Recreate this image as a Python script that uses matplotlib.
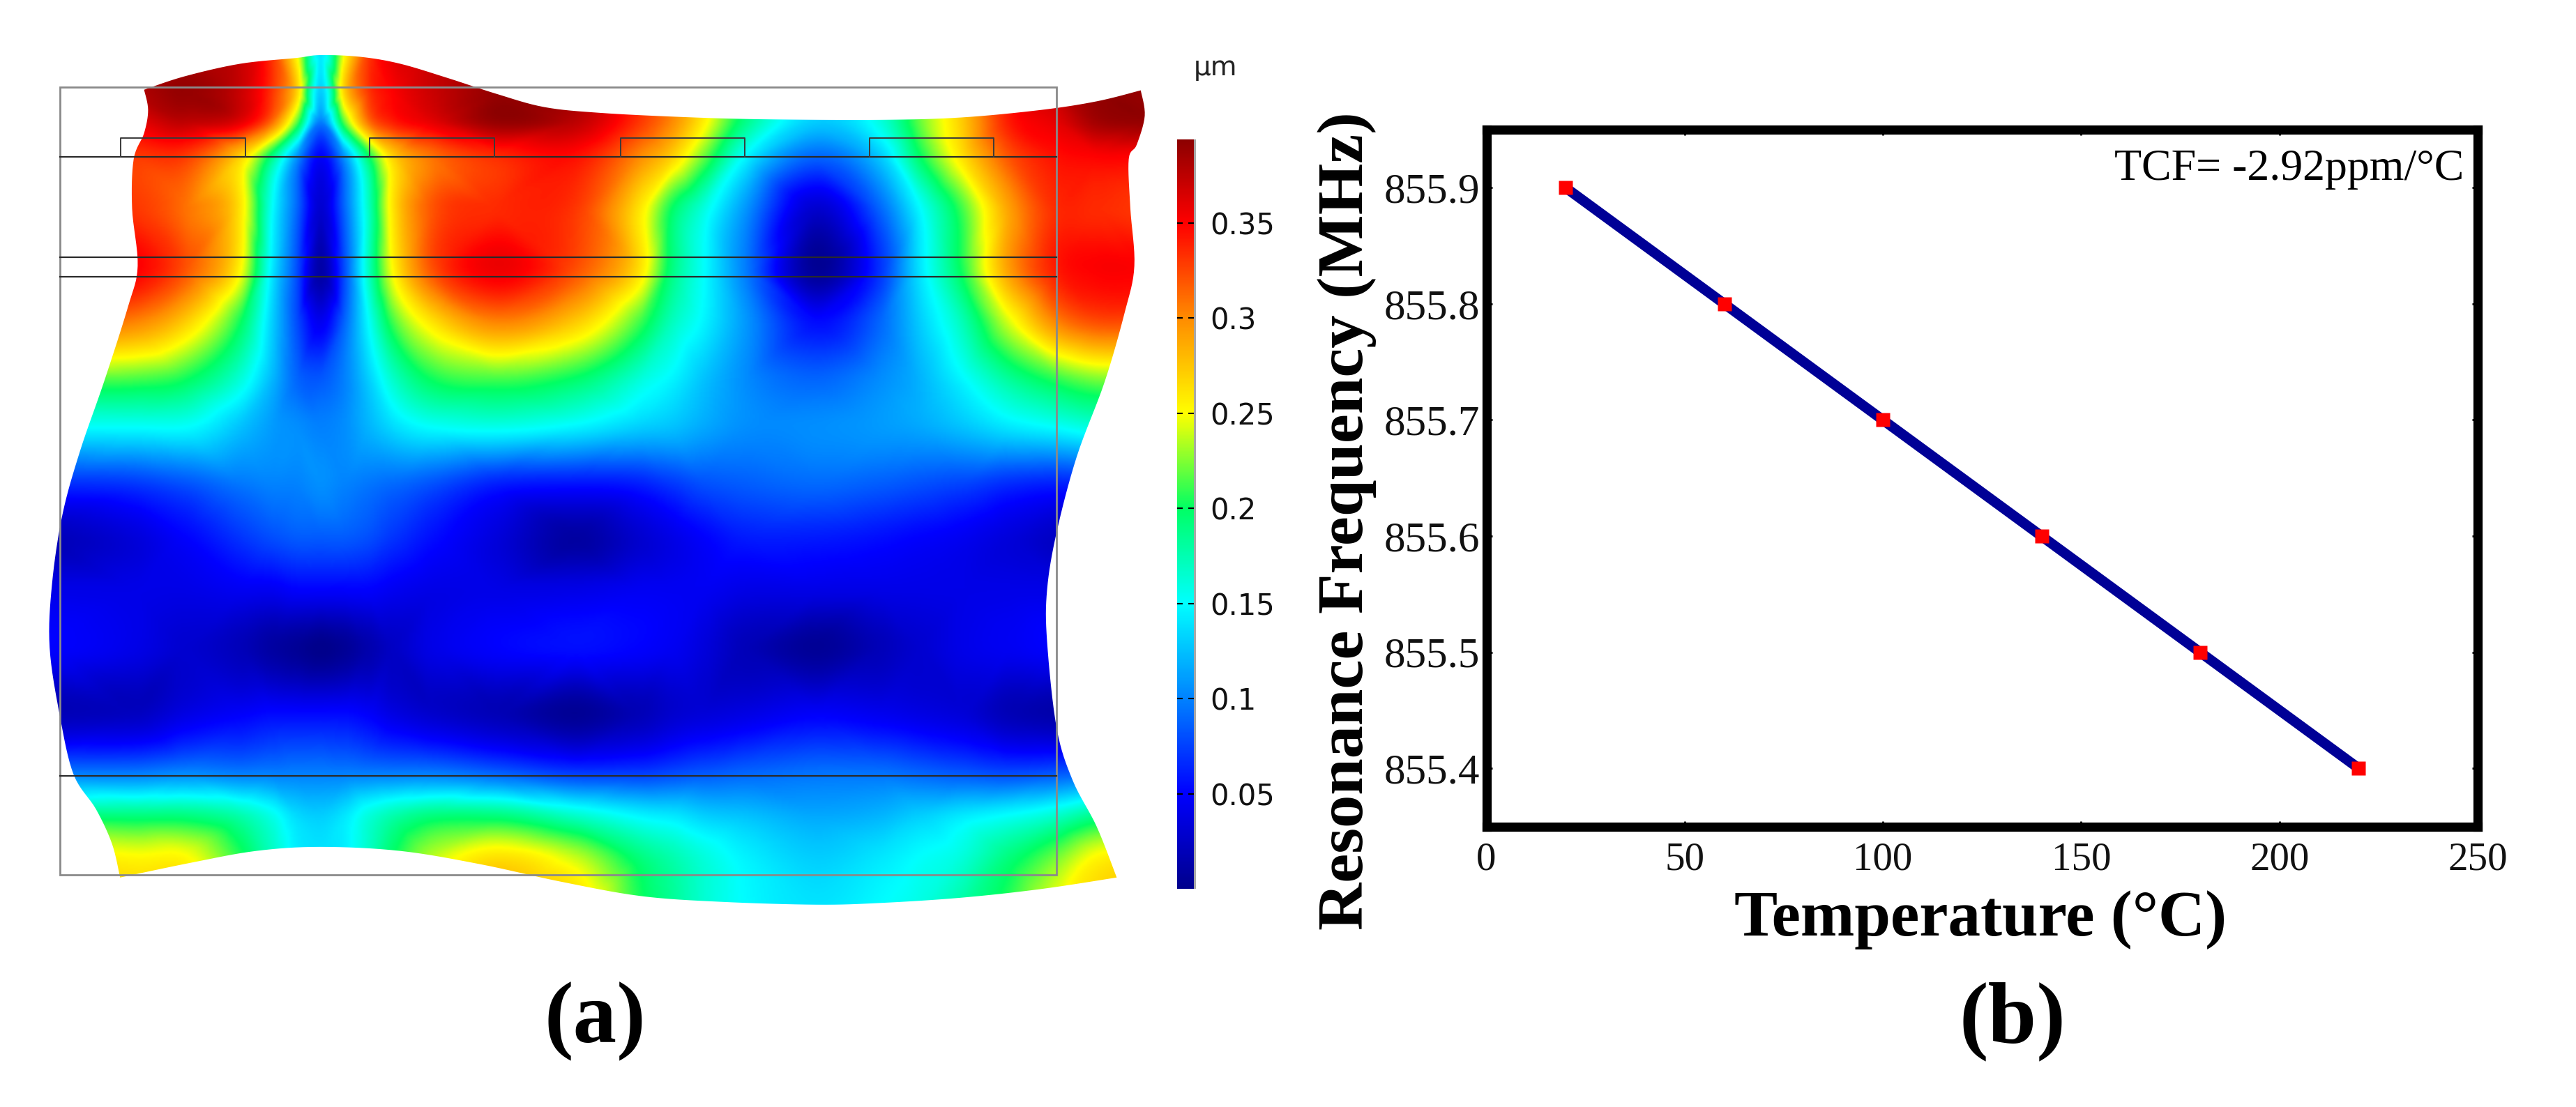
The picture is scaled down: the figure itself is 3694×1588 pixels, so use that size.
import numpy as np
import matplotlib
matplotlib.use("Agg")
import matplotlib.pyplot as plt
import matplotlib.tri as mtri
from matplotlib.colors import LinearSegmentedColormap, Normalize
from matplotlib.cm import ScalarMappable
from matplotlib.patches import PathPatch, Rectangle
from matplotlib.path import Path

W, H = 3694, 1588
SERIF = ["Liberation Serif", "DejaVu Serif"]

# ---- panel (b) data
temperature = [20, 60, 100, 140, 180, 220]
frequency = [855.9, 855.8, 855.7, 855.6, 855.5, 855.4]
x_ticks = [0, 50, 100, 150, 200, 250]
y_ticks = [855.4, 855.5, 855.6, 855.7, 855.8, 855.9]

# ---- panel (a) data: displacement (µm)
col_x = [60,170,230,300,340,370,400,430,460,490,540,620,720,800,840,880,930,1020,1100,1150,1200,1260,1320,1370,1430]
row_y = [30,100,150,210,300,410,500,600,680,780,870,960,1060,1180,1280,1350,1420,1510]
field = [
 [.38,.38,.38,.37,.33,.25,.14,.25,.33,.36,.37,.38,.38,.33,.30,.26,.20,.14,.16,.22,.27,.34,.37,.39,.39],
 [.38,.38,.39,.37,.33,.27,.13,.27,.33,.35,.37,.39,.38,.33,.30,.26,.20,.14,.16,.22,.27,.34,.37,.39,.39],
 [.36,.36,.375,.36,.31,.22,.10,.22,.31,.34,.36,.39,.375,.33,.30,.255,.19,.13,.16,.22,.27,.34,.36,.385,.39],
 [.33,.33,.33,.27,.19,.11,.05,.11,.20,.27,.31,.335,.345,.30,.27,.22,.15,.09,.13,.20,.26,.32,.345,.35,.35],
 [.33,.33,.31,.26,.15,.09,.03,.09,.17,.26,.32,.335,.33,.26,.20,.16,.11,.03,.09,.15,.21,.29,.335,.335,.33],
 [.35,.35,.32,.25,.14,.08,.012,.08,.17,.25,.32,.355,.32,.26,.19,.15,.10,.005,.07,.14,.20,.29,.34,.35,.35],
 [.31,.30,.27,.20,.13,.08,.045,.09,.15,.21,.26,.30,.27,.21,.17,.145,.11,.055,.09,.13,.17,.24,.30,.32,.32],
 [.21,.21,.20,.16,.12,.09,.085,.10,.13,.165,.20,.21,.195,.16,.145,.125,.105,.09,.105,.12,.145,.18,.205,.22,.22],
 [.15,.15,.15,.125,.11,.105,.10,.105,.12,.135,.15,.155,.145,.13,.125,.115,.105,.105,.11,.115,.125,.14,.15,.16,.16],
 [.065,.07,.08,.095,.10,.10,.105,.10,.095,.09,.08,.06,.055,.06,.07,.08,.085,.09,.085,.08,.075,.065,.06,.06,.06],
 [.02,.035,.05,.07,.08,.085,.085,.085,.08,.07,.055,.035,.01,.03,.04,.05,.06,.06,.055,.05,.045,.035,.025,.025,.025],
 [.04,.04,.04,.045,.045,.05,.05,.05,.05,.045,.04,.04,.04,.045,.045,.045,.04,.04,.04,.04,.04,.04,.04,.04,.04],
 [.05,.04,.03,.02,.01,.005,0,.005,.015,.025,.04,.05,.055,.05,.045,.035,.02,.005,.02,.03,.04,.045,.05,.05,.05],
 [.02,.025,.04,.05,.055,.055,.055,.055,.05,.04,.03,.02,.005,.02,.03,.035,.04,.05,.045,.04,.035,.02,.015,.015,.015],
 [.10,.10,.105,.10,.10,.10,.10,.10,.10,.10,.10,.09,.075,.075,.08,.085,.09,.095,.095,.09,.085,.08,.085,.09,.09],
 [.19,.19,.19,.175,.155,.135,.13,.14,.16,.175,.19,.19,.165,.145,.14,.13,.125,.115,.12,.13,.14,.15,.165,.185,.19],
 [.26,.25,.25,.205,.17,.145,.14,.145,.17,.20,.235,.26,.235,.19,.175,.16,.145,.13,.14,.15,.16,.19,.22,.25,.26],
 [.27,.27,.27,.22,.18,.16,.15,.16,.19,.23,.27,.29,.27,.205,.185,.165,.15,.14,.15,.16,.18,.21,.25,.27,.28],
]
outline_x = [180,230,300,370,400,450,500,560,620,680,750,850,950,1100,1200,1300,1370,1425,
             1430,1420,1410,1412,1417,1405,1380,1345,1320,1308,1308,1320,1340,1370,1395,
             1300,1200,1100,1020,900,800,700,600,500,400,320,240,150,
             140,120,92,75,62,65,78,100,130,160,172,165,167,180,185]
outline_y = [95,72,50,40,35,38,50,75,102,125,135,142,146,147,143,130,115,96,
             140,190,215,300,400,480,600,730,860,960,1050,1200,1290,1370,1458,
             1478,1493,1502,1505,1500,1490,1465,1435,1412,1405,1412,1432,1458,
             1400,1340,1280,1180,1060,950,830,720,600,470,400,300,215,170,130]
layer_lines = [211, 385, 418, 1282]
electrodes_left = [151, 462, 775, 1086]
electrodes_right = [307, 618, 930, 1241]
cbar_ticks = [0.05, 0.1, 0.15, 0.2, 0.25, 0.3, 0.35]
cbar_labels = ["0.05", "0.1", "0.15", "0.2", "0.25", "0.3", "0.35"]
cmap_values = [0.0, 0.05, 0.1, 0.15, 0.2, 0.25, 0.3, 0.35, 0.394]
cmap_colors = ["#00008c", "#0000ff", "#0082ff", "#00ffff", "#00ff64", "#ffff00", "#ff8c00", "#ff0000", "#8c0000"]
VMIN, VMAX = 0.0, 0.394

cmap = LinearSegmentedColormap.from_list(
    "field", [((v - VMIN) / (VMAX - VMIN), c) for v, c in zip(cmap_values, cmap_colors)], N=512)
norm = Normalize(VMIN, VMAX)


def px_axes(fig, x0, y0, x1, y1):
    return fig.add_axes([x0 / W, 1 - y1 / H, (x1 - x0) / W, (y1 - y0) / H])


fig = plt.figure(figsize=(W / 100, H / 100), dpi=100, facecolor="white")

# ---------- panel (a)
ax = px_axes(fig, 0, 50, 1800, 1350)
ax.set_xlim(0, 1568)
ax.set_ylim(1568, 0)
ax.axis("off")

X, Y = np.meshgrid(col_x, row_y)
Z = np.array(field)
tri = mtri.Triangulation(X.ravel(), Y.ravel())
interp = mtri.CubicTriInterpolator(tri, Z.ravel(), kind="geom")
xf = np.linspace(col_x[0], col_x[-1], 700)
yf = np.linspace(row_y[0], row_y[-1], 800)
XF, YF = np.meshgrid(xf, yf)
ZF = np.ma.filled(interp(XF, YF), 0.0).clip(VMIN, VMAX)
img = ax.imshow(ZF, extent=(xf[0], xf[-1], yf[-1], yf[0]), cmap=cmap, norm=norm,
                interpolation="bilinear", aspect="auto", zorder=1)


def smooth(px, py, n=8):
    """Catmull-Rom rounding of the outline between its corners."""
    p = np.column_stack([px, py]).astype(float)
    out = []
    corners = {0, 17, 32, 45}
    m = len(p)
    for i in range(m):
        p0, p1, p2, p3 = p[(i - 1) % m], p[i], p[(i + 1) % m], p[(i + 2) % m]
        if i in corners:
            p0 = p1
        if (i + 1) % m in corners:
            p3 = p2
        for t in np.linspace(0, 1, n, endpoint=False):
            out.append(0.5 * (2 * p1 + (p2 - p0) * t + (2 * p0 - 5 * p1 + 4 * p2 - p3) * t ** 2
                              + (3 * p1 - p0 - 3 * p2 + p3) * t ** 3))
    return np.array(out)


poly = smooth(outline_x, outline_y)
clip = PathPatch(Path(np.vstack([poly, poly[0]]), closed=True), transform=ax.transData, fc="none", ec="none")
ax.add_patch(clip)
img.set_clip_path(clip)

fx0, fx1, fy0, fy1 = 75, 1320, 90, 1453
ax.add_patch(Rectangle((fx0, fy0), fx1 - fx0, fy1 - fy0, fill=False, ec="#8a8a8a", lw=2.0, zorder=3))
for yy in layer_lines:
    ax.plot([fx0, fx1], [yy, yy], color="#2a2a2a", lw=1.6, zorder=4)
for l, r in zip(electrodes_left, electrodes_right):
    ax.plot([l, l, r, r], [211, 178, 178, 211], color="#3a3a3a", lw=1.4, zorder=4)

# colour bar
cax = px_axes(fig, 1688, 200, 1712, 1275)
cb = fig.colorbar(ScalarMappable(norm=norm, cmap=cmap), cax=cax, ticks=cbar_ticks)
cb.outline.set_visible(False)
cb.ax.set_yticklabels(cbar_labels, fontsize=30, family="DejaVu Sans", color="#111111")
cb.ax.tick_params(axis="y", direction="in", length=6, width=1.5, color="black",
                  left=True, right=True, pad=17)
fig.patches.append(Rectangle((1712 / W, 1 - 1275 / H), 3 / W, 1075 / H, transform=fig.transFigure,
                             fc="#a8a8a8", ec="none"))
fig.text(1743 / W, 1 - 97 / H, "µm", fontsize=28, family="DejaVu Sans", ha="center", va="center", color="#222222")

# ---------- panel (b)
axb = px_axes(fig, 2131.5, 186, 3553, 1185.5)
axb.plot(temperature, frequency, color="#000096", lw=10.5, zorder=3, solid_capstyle="butt")
axb.plot(temperature, frequency, ls="none", marker="s", ms=14, color="#ff0000", mec="none", zorder=4)
axb.set_xlim(0, 250)
axb.set_ylim(855.35, 855.95)
axb.set_xticks(x_ticks)
axb.set_yticks(y_ticks)
axb.set_yticklabels([f"{v:.1f}" for v in y_ticks])
for s in axb.spines.values():
    s.set_linewidth(9.5)
    s.set_color("black")
axb.tick_params(axis="both", direction="in", length=5.5, width=2, top=True, right=True, labelsize=44, pad=7)
for t in axb.get_xticklabels() + axb.get_yticklabels():
    t.set_family(SERIF)
    t.set_color("#111111")
axb.tick_params(axis="x", pad=16, labelsize=41)

fig.text(3283 / W, 1 - 243 / H, "TCF= -2.92ppm/°C", family=SERIF, fontsize=46, ha="center", va="center", color="black")
fig.text(1932 / W, 1 - 747 / H, "Resonance Frequency (MHz)", family=SERIF, weight="bold", fontsize=68,
         rotation=90, ha="center", va="center", color="black")
fig.text(2840 / W, 1 - 1319 / H, "Temperature (°C)", family=SERIF, weight="bold", fontsize=67,
         ha="center", va="center", color="black")
fig.text(853 / W, 1 - 1465 / H, "(a)", family=SERIF, weight="bold", fontsize=90, ha="center", va="center", color="black")
fig.text(2886 / W, 1 - 1465 / H, "(b)", family=SERIF, weight="bold", fontsize=90, ha="center", va="center", color="black")

fig.savefig("out.png", dpi=100, facecolor="white")
